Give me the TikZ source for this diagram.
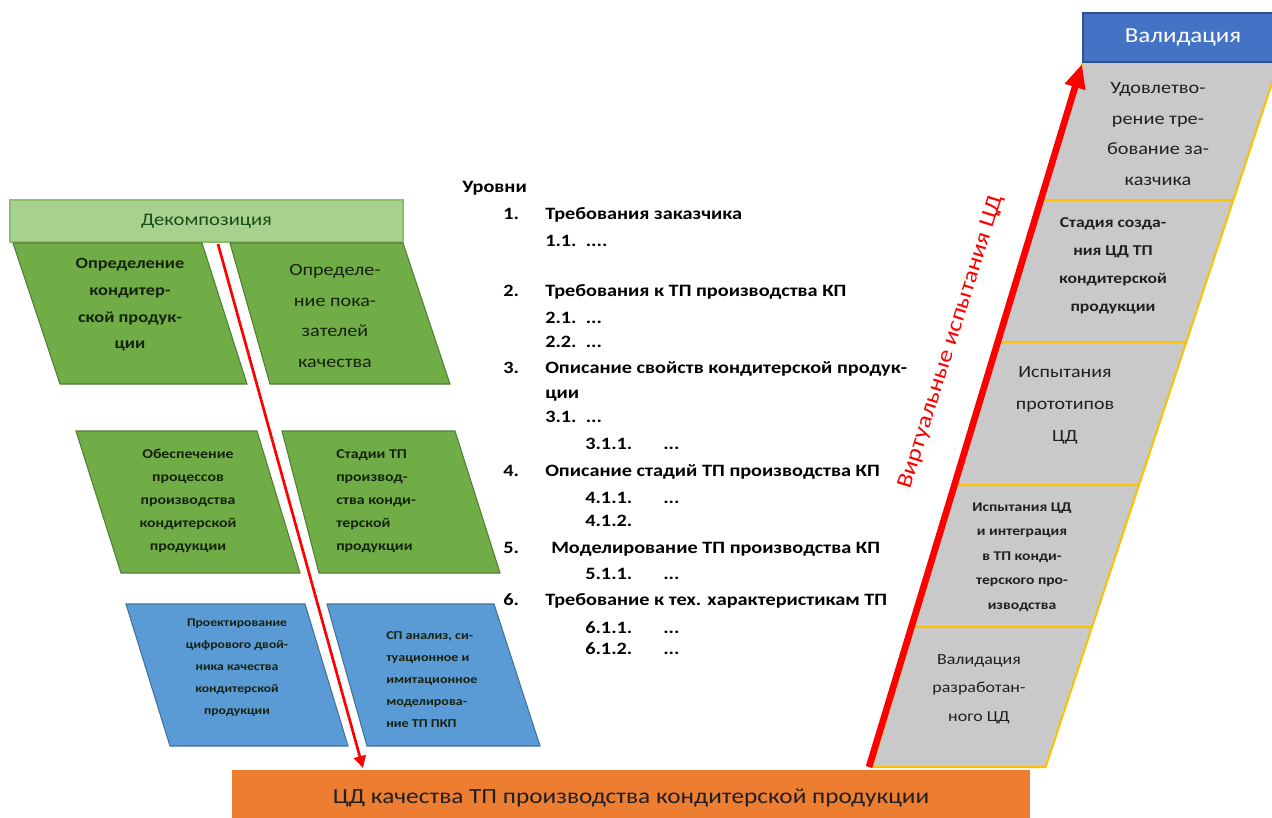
\documentclass[tikz,border=0pt]{standalone}
\usepackage{fontspec}
\setmainfont{Carlito}[FakeStretch=1.17]
\usetikzlibrary{arrows.meta}
\definecolor{gfill}{HTML}{70AD47}
\definecolor{gline}{HTML}{507E32}
\definecolor{hfill}{HTML}{A9D18E}
\definecolor{hline}{HTML}{8CBF6C}
\definecolor{bfill}{HTML}{5B9BD5}
\definecolor{bline}{HTML}{41719C}
\definecolor{ofill}{HTML}{ED7D31}
\definecolor{vfill}{HTML}{4472C4}
\definecolor{vline}{HTML}{2F528F}
\definecolor{gyfill}{HTML}{C9C9C9}
\definecolor{gyline}{HTML}{FFC000}
\definecolor{gtext}{HTML}{16220E}
\definecolor{dtext}{HTML}{202020}
\definecolor{arred}{HTML}{FF0000}
\tikzset{
  x=0.75pt, y=-0.75pt,
  gpara/.style={fill=gfill, draw=gline, line width=0.8pt},
  bpara/.style={fill=bfill, draw=bline, line width=0.8pt},
  gypara/.style={fill=gyfill, draw=gyline, line width=1.5pt, line join=round},
  ptext/.style={align=center, inner sep=0pt, text=gtext},
  gytext/.style={align=center, inner sep=0pt, text=dtext},
  lst/.style={anchor=base west, inner sep=0pt, font=\bfseries\fontsize{13}{15}\selectfont},
}
\begin{document}
\begin{tikzpicture}
\clip (0,0) rectangle (1272,818);
\fill[white] (0,0) rectangle (1272,818);

% ---------- Decomposition side ----------
\node[draw=hline, fill=hfill, line width=0.8pt, minimum width=393*0.75pt, minimum height=42*0.75pt,
      inner sep=0pt, text=dtext!80!green, font=\fontsize{13.2}{16}\selectfont]
  (dec) at (206.5,221) {Декомпозиция};

\path[gpara] (13,243) -- (202,243) -- (247,384) -- (60,384) -- cycle;
\path[gpara] (230,243) -- (403,243) -- (450,384) -- (270,384) -- cycle;
\path[gpara] (76,431) -- (257,431) -- (300,573) -- (121,573) -- cycle;
\path[gpara] (282,431) -- (455,431) -- (500,573) -- (319,573) -- cycle;
\path[bpara] (126,604) -- (305,604) -- (348,746) -- (170,746) -- cycle;
\path[bpara] (327,604) -- (494,604) -- (540,746) -- (367,746) -- cycle;

\node[ptext, font=\bfseries\fontsize{11.75}{20}\selectfont] (g1) at (130,305)
  {Определение\\кондитер-\\ской продук-\\ции};
\node[ptext, font=\fontsize{12.9}{23}\selectfont] (g2) at (335,316)
  {Определе-\\ние пока-\\зателей\\качества};
\node[ptext, font=\bfseries\fontsize{10.15}{17.2}\selectfont] (g3) at (188,501)
  {Обеспечение\\процессов\\производства\\кондитерской\\продукции};
\node[ptext, align=left, anchor=west, font=\bfseries\fontsize{10.15}{17.2}\selectfont] (g4) at (336,501)
  {Стадии ТП\\производ-\\ства конди-\\терской\\продукции};
\node[ptext, font=\bfseries\fontsize{8.75}{16.5}\selectfont] (b1) at (237,668)
  {Проектирование\\цифрового двой-\\ника качества\\кондитерской\\продукции};
\node[ptext, align=left, anchor=west, font=\bfseries\fontsize{9}{16.5}\selectfont] (b2) at (386,680)
  {СП анализ, си-\\туационное и\\имитационное\\моделирова-\\ние ТП ПКП};

% ---------- bottom bar ----------
\node[fill=ofill, minimum width=798*0.75pt, minimum height=56*0.75pt, inner sep=0pt,
      text=dtext, font=\fontsize{16.2}{19}\selectfont] (cd) at (631,798)
  {ЦД качества ТП производства кондитерской продукции};

% thin red arrow (decomposition)
\coordinate (dS) at (218,244);
\coordinate (dE) at (363,768);
\draw[arred, line width=2pt, -{Triangle[length=9pt,width=9pt]}] (dS) -- (dE);

% ---------- list ----------
\node[lst] (u0) at (462,192) {Уровни};
\node[lst] (n1) at (503,219) {1.};  \node[lst] (t1) at (545,219) {Требования заказчика};
\node[lst] (t11) at (545,246) {1.1.\ \ ....};
\node[lst] (n2) at (503,296) {2.};  \node[lst] (t2) at (545,296) {Требования к ТП производства КП};
\node[lst] (t21) at (545,323) {2.1.\ \ ...};
\node[lst] (t22) at (545,347) {2.2.\ \ ...};
\node[lst] (n3) at (503,373) {3.};  \node[lst] (t3) at (545,373) {Описание свойств кондитерской продук-};
\node[lst] (t3b) at (545,398) {ции};
\node[lst] (t31) at (545,422) {3.1.\ \ ...};
\node[lst] (t311) at (585,449) {3.1.1.}; \node[lst] (d311) at (663,449) {...};
\node[lst] (n4) at (503,476) {4.};  \node[lst] (t4) at (545,476) {Описание стадий ТП производства КП};
\node[lst] (t411) at (585,503) {4.1.1.}; \node[lst] (d411) at (663,503) {...};
\node[lst] (t412) at (585,526) {4.1.2.};
\node[lst] (n5) at (503,553) {5.};  \node[lst] (t5) at (551,553) {Моделирование ТП производства КП};
\node[lst] (t511) at (585,579) {5.1.1.}; \node[lst] (d511) at (663,579) {...};
\node[lst] (n6) at (503,605) {6.};  \node[lst] (t6) at (545,605) {Требование к тех. характеристикам ТП};
\node[lst] (t611) at (585,633) {6.1.1.}; \node[lst] (d611) at (663,633) {...};
\node[lst] (t612) at (585,654) {6.1.2.}; \node[lst] (d612) at (663,654) {...};

% ---------- Validation side ----------
\path[gypara] (1083,62) -- (1279,62) -- (1233.3,200) -- (1041.7,200) -- cycle;
\path[gypara] (1041.7,200) -- (1233.3,200) -- (1186.3,342) -- (999.2,342) -- cycle;
\path[gypara] (999.2,342) -- (1186.3,342) -- (1139,485) -- (956.4,485) -- cycle;
\path[gypara] (956.4,485) -- (1139,485) -- (1092,627) -- (913.9,627) -- cycle;
\path[gypara] (913.9,627) -- (1092,627) -- (1045.6,767) -- (872,767) -- cycle;

\node[fill=vfill, draw=vline, line width=0.8pt, minimum width=200*0.75pt, minimum height=49*0.75pt,
      inner sep=0pt, text=white, font=\fontsize{16}{19}\selectfont] (val) at (1183,37.5) {Валидация};

\node[gytext, font=\fontsize{13}{23}\selectfont] (v1) at (1158,134)
  {Удовлетво-\\рение тре-\\бование за-\\казчика};
\node[gytext, font=\bfseries\fontsize{11.3}{21}\selectfont] (v2) at (1113,266)
  {Стадия созда-\\ния ЦД ТП\\кондитерской\\продукции};
\node[gytext, font=\fontsize{12.8}{24}\selectfont] (v3) at (1065,405)
  {Испытания\\прототипов\\ЦД};
\node[gytext, font=\bfseries\fontsize{10}{18.4}\selectfont] (v4) at (1022,557)
  {Испытания ЦД\\и интеграция\\в ТП конди-\\терского про-\\изводства};
\node[gytext, font=\fontsize{11.5}{21.4}\selectfont] (v5) at (979,689)
  {Валидация\\разработан-\\ного ЦД};

% thick red arrow (validation)
\coordinate (vS) at (869,767);
\coordinate (vE) at (1082,64);
\draw[arred, line width=5pt, -{Triangle[length=18pt,width=15pt]}] (vS) -- (vE);

\node[text=arred, rotate=72.5, inner sep=0pt, font=\fontsize{16.5}{19}\selectfont] (vt) at (951,342)
  {Виртуальные испытания ЦД};
\end{tikzpicture}
\end{document}
